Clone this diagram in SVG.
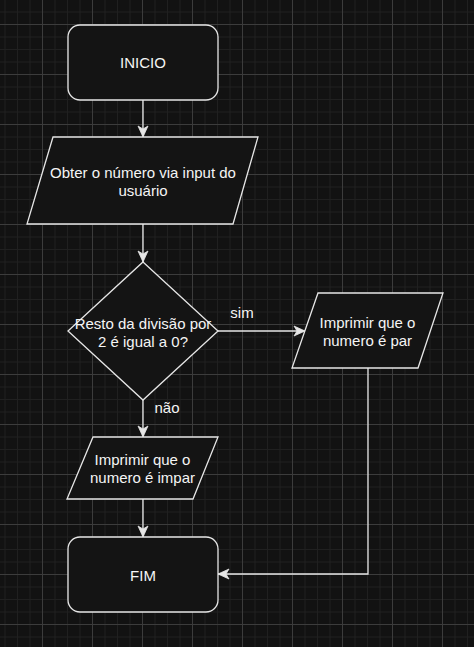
<svg xmlns="http://www.w3.org/2000/svg" width="474" height="647" viewBox="0 0 474 647">
  <defs>
    <pattern id="grid" x="42" y="24" width="50" height="50" patternUnits="userSpaceOnUse">
      <rect width="50" height="50" fill="#121212"/>
      <g fill="#202020">
        <rect x="12.5" y="0" width="1" height="50"/>
        <rect x="25" y="0" width="1" height="50"/>
        <rect x="37.5" y="0" width="1" height="50"/>
        <rect x="0" y="12.5" width="50" height="1"/>
        <rect x="0" y="25" width="50" height="1"/>
        <rect x="0" y="37.5" width="50" height="1"/>
      </g>
      <g fill="#3c3c3c">
        <rect x="0" y="0" width="1" height="50"/>
        <rect x="0" y="0" width="50" height="1"/>
      </g>
    </pattern>
    <marker id="arrow" markerUnits="userSpaceOnUse" markerWidth="12" markerHeight="12" refX="11" refY="5" orient="auto" overflow="visible">
      <path d="M0,0 L11,5 L0,10 L3,5 Z" fill="#e6e6e6" stroke="#e6e6e6" stroke-width="0.8" stroke-linejoin="miter"/>
    </marker>
    <style>
      .shape { fill: #141414; stroke: #e6e6e6; stroke-width: 1.3; }
      .edge { fill: none; stroke: #e6e6e6; stroke-width: 1.3; marker-end: url(#arrow); }
      text { font-family: "Liberation Sans", Arial, sans-serif; font-size: 15px; fill: #f5f5f5; text-anchor: middle; dominant-baseline: central; }
    </style>
  </defs>

  <rect x="0" y="0" width="474" height="647" fill="url(#grid)"/>

  <g id="connectors">
    <path class="edge" d="M143,100 L143,137"/>
    <path class="edge" d="M143,224 L143,262"/>
    <path class="edge" d="M218,331 L305,331"/>
    <path class="edge" d="M143,400 L143,437"/>
    <path class="edge" d="M143,499 L143,537"/>
    <path class="edge" d="M368,368 L368,574 L218,574"/>
    <text x="242" y="312">sim</text>
    <text x="167" y="407">não</text>
  </g>

  <g id="inicio">
    <rect class="shape" x="68" y="25" width="150" height="75" rx="12" ry="12"/>
    <text x="143" y="62">INICIO</text>
  </g>

  <g id="obter">
    <polygon class="shape" points="53,137 258,137 233,224 27,224"/>
    <text x="143" y="172">Obter o número via input do</text>
    <text x="143" y="190">usuário</text>
  </g>

  <g id="decisao">
    <polygon class="shape" points="143,262 218,331 143,400 68,331"/>
    <text x="143" y="323">Resto da divisão por</text>
    <text x="143" y="341">2 é igual a 0?</text>
  </g>

  <g id="par">
    <polygon class="shape" points="318,293 443,293 418,368 292,368"/>
    <text x="367.5" y="322">Imprimir que o</text>
    <text x="367.5" y="340">numero é par</text>
  </g>

  <g id="impar">
    <polygon class="shape" points="93,437 218,437 193,499 67,499"/>
    <text x="142.5" y="459">Imprimir que o</text>
    <text x="142.5" y="477">numero é impar</text>
  </g>

  <g id="fim">
    <rect class="shape" x="68" y="537" width="150" height="75" rx="12" ry="12"/>
    <text x="143" y="575">FIM</text>
  </g>
</svg>
